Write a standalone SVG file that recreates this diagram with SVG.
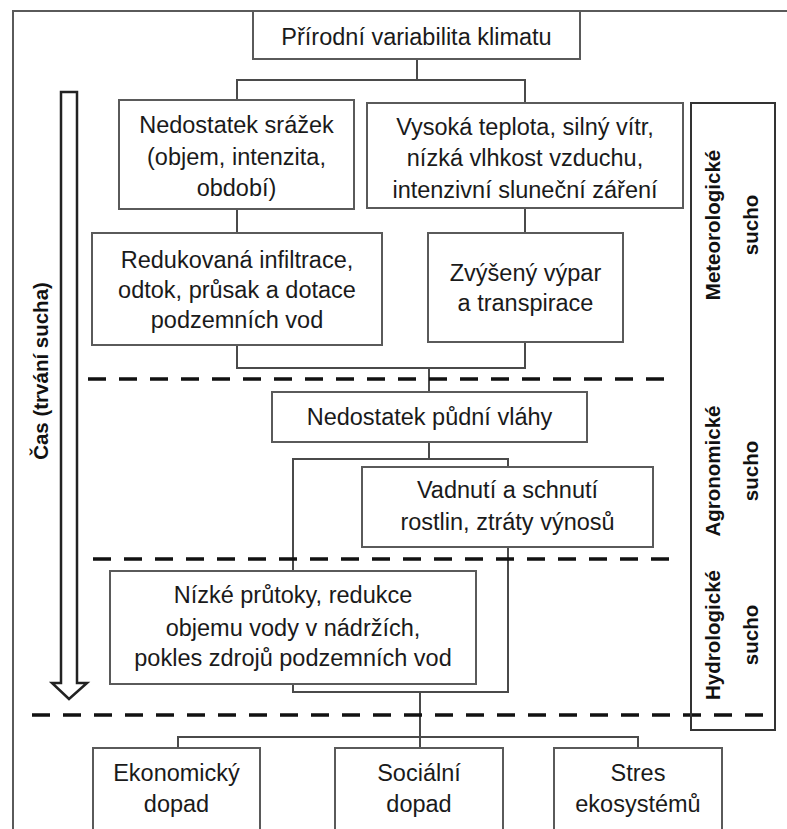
<svg xmlns="http://www.w3.org/2000/svg" width="787" height="829" viewBox="0 0 787 829">
<style>
  .box { fill: #ffffff; stroke: #5a5a5a; stroke-width: 2; }
  .conn { fill: none; stroke: #4a4a4a; stroke-width: 2; }
  .dash { fill: none; stroke: #111111; stroke-width: 3.5; stroke-dasharray: 18 13; }
  .t { font-family: "Liberation Sans", Arial, sans-serif; font-size: 23.5px; fill: #1a1a1a; text-anchor: middle; dominant-baseline: central; }
  .b { font-family: "Liberation Sans", Arial, sans-serif; font-size: 20.5px; font-weight: bold; fill: #111111; text-anchor: middle; dominant-baseline: central; }
</style>
<rect x="0" y="0" width="787" height="829" fill="#ffffff"/>
<!-- frame -->
<g id="frame">
  <polyline points="13,829 13,11 787,11" fill="none" stroke="#5a5a5a" stroke-width="2"/>
</g>
<!-- connectors -->
<g id="connectors">
  <polyline class="conn" points="417,59 417,80"/>
  <polyline class="conn" points="237,100 237,80 525,80 525,103"/>
  <polyline class="conn" points="237,209 237,233"/>
  <polyline class="conn" points="525,208 525,233"/>
  <polyline class="conn" points="237,345 237,368 525,368 525,342"/>
  <polyline class="conn" points="429,368 429,392"/>
  <polyline class="conn" points="429,442 429,459"/>
  <rect class="conn" x="293" y="459" width="215" height="233"/>
  <polyline class="conn" points="420,692 420,748"/>
  <polyline class="conn" points="178,748 178,737 638,737 638,748"/>
</g>
<!-- dashed separators -->
<g id="separators">
  <line class="dash" x1="88" y1="379" x2="668" y2="379"/>
  <line class="dash" x1="93" y1="559" x2="673" y2="559"/>
  <line class="dash" x1="32" y1="715" x2="770" y2="715"/>
</g>
<!-- time arrow -->
<g id="time-arrow">
  <polygon points="61,92 77,92 77,683 87,683 69,699 52,683 61,683" fill="#ffffff" stroke="#222222" stroke-width="2.5" stroke-linejoin="miter"/>
  <text class="b" transform="translate(40,371) rotate(-90)">Čas (trvání sucha)</text>
</g>
<!-- side labels -->
<g id="drought-types">
  <rect x="691" y="103" width="84" height="627" fill="none" stroke="#333333" stroke-width="2"/>
  <text class="b" transform="translate(731,225) rotate(-90)"><tspan x="0" y="-19">Meteorologické</tspan><tspan x="0" y="19">sucho</tspan></text>
  <text class="b" transform="translate(731,471) rotate(-90)"><tspan x="0" y="-19">Agronomické</tspan><tspan x="0" y="19">sucho</tspan></text>
  <text class="b" transform="translate(731,635) rotate(-90)"><tspan x="0" y="-19">Hydrologické</tspan><tspan x="0" y="19">sucho</tspan></text>
</g>
<g id="n-climate">
  <rect class="box" x="253" y="11" width="327" height="48"/>
  <text class="t" x="416.5" y="37">Přírodní variabilita klimatu</text>
</g>
<g id="n-precip">
  <rect class="box" x="119" y="100" width="235" height="109"/>
  <text class="t" x="236.5" y="125">Nedostatek srážek</text>
  <text class="t" x="236.5" y="157">(objem, intenzita,</text>
  <text class="t" x="236.5" y="188">období)</text>
</g>
<g id="n-temp">
  <rect class="box" x="367" y="103" width="316" height="105"/>
  <text class="t" x="525" y="127">Vysoká teplota, silný vítr,</text>
  <text class="t" x="525" y="158">nízká vlhkost vzduchu,</text>
  <text class="t" x="525" y="190">intenzivní sluneční záření</text>
</g>
<g id="n-infiltration">
  <rect class="box" x="92" y="233" width="290" height="112"/>
  <text class="t" x="237" y="260">Redukovaná infiltrace,</text>
  <text class="t" x="237" y="290">odtok, průsak a dotace</text>
  <text class="t" x="237" y="320">podzemních vod</text>
</g>
<g id="n-evap">
  <rect class="box" x="428" y="233" width="195" height="109"/>
  <text class="t" x="525.5" y="273">Zvýšený výpar</text>
  <text class="t" x="525.5" y="303">a transpirace</text>
</g>
<g id="n-soil">
  <rect class="box" x="272" y="392" width="315" height="50"/>
  <text class="t" x="429.5" y="417">Nedostatek půdní vláhy</text>
</g>
<g id="n-wilting">
  <rect class="box" x="362" y="467" width="291" height="80"/>
  <text class="t" x="507.5" y="490">Vadnutí a schnutí</text>
  <text class="t" x="507.5" y="522">rostlin, ztráty výnosů</text>
</g>
<g id="n-lowflow">
  <rect class="box" x="110" y="571" width="366" height="113"/>
  <text class="t" x="293" y="595">Nízké průtoky, redukce</text>
  <text class="t" x="293" y="628">objemu vody v nádržích,</text>
  <text class="t" x="293" y="658">pokles zdrojů podzemních vod</text>
</g>
<g id="n-economic">
  <rect class="box" x="93" y="748" width="167" height="90"/>
  <text class="t" x="176.5" y="773">Ekonomický</text>
  <text class="t" x="176.5" y="804">dopad</text>
</g>
<g id="n-social">
  <rect class="box" x="335" y="748" width="168" height="90"/>
  <text class="t" x="419" y="773">Sociální</text>
  <text class="t" x="419" y="804">dopad</text>
</g>
<g id="n-eco">
  <rect class="box" x="554" y="748" width="168" height="90"/>
  <text class="t" x="638" y="773">Stres</text>
  <text class="t" x="638" y="804">ekosystémů</text>
</g>
</svg>
